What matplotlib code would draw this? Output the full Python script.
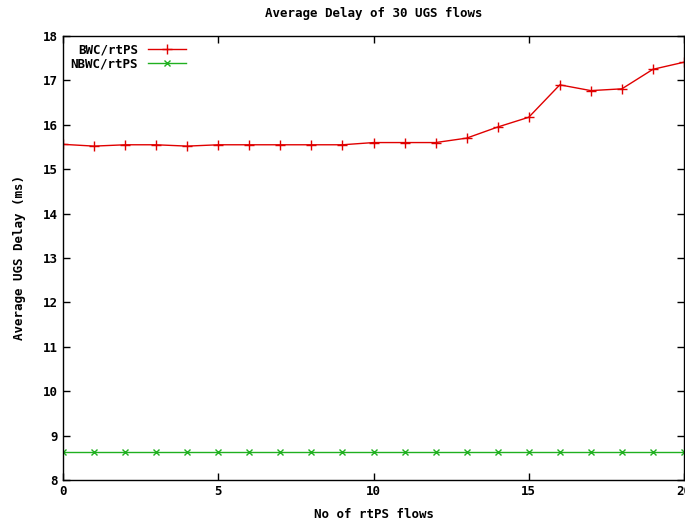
import numpy as np
import matplotlib
matplotlib.use('Agg')
import matplotlib.pyplot as plt

flows = list(range(0, 21))
bwc_delay = [15.56, 15.52, 15.55, 15.55, 15.52, 15.55, 15.55, 15.55, 15.55, 15.55,
             15.60, 15.60, 15.60, 15.70, 15.95, 16.17, 16.90, 16.77, 16.81, 17.25, 17.41]
nbwc_delay = [8.63] * 21

plt.rcParams['font.family'] = 'DejaVu Sans Mono'
plt.rcParams['font.weight'] = 'bold'
plt.rcParams['font.size'] = 9

fig = plt.figure(figsize=(6.85, 5.24), dpi=100)
ax = fig.add_axes([63/685, 44/524, 621/685, 444/524])

ax.plot(flows, bwc_delay, color='#e00000', marker='+', markersize=6.5, linewidth=1, label='BWC/rtPS')
ax.plot(flows, nbwc_delay, color='#20b020', marker='x', markersize=5, linewidth=1, label='NBWC/rtPS')

ax.set_xlim(0, 20)
ax.set_ylim(8, 18)
ax.set_xticks(range(0, 21, 5))
ax.set_yticks(range(8, 19))
ax.tick_params(direction='in', top=True, right=True, length=5, width=1)
for s in ax.spines.values():
    s.set_linewidth(1)

ax.set_title('Average Delay of 30 UGS flows', fontsize=9, fontweight='bold', pad=14)
ax.set_xlabel('No of rtPS flows', fontweight='bold', labelpad=7)
ax.set_ylabel('Average UGS Delay (ms)', fontweight='bold', labelpad=12)

ax.legend(loc='upper left', frameon=False, markerfirst=False, handlelength=3,
          borderaxespad=0.2, labelspacing=0.1)

fig.savefig('out.png', dpi=100)
